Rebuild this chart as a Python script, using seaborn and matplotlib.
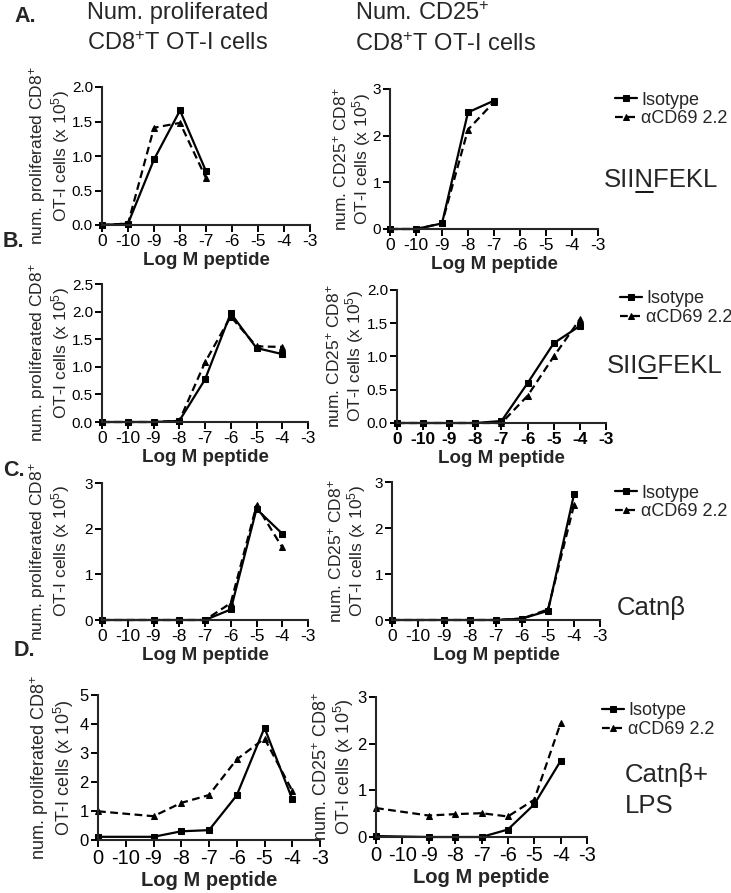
import matplotlib
matplotlib.use("Agg")
import matplotlib.pyplot as plt
import pandas as pd
import seaborn as sns

W, H = 731, 893
XT = ["0", "-10", "-9", "-8", "-7", "-6", "-5", "-4", "-3"]
ISO = "Isotype"
ANTI = "αCD69 2.2"

# A. SIINFEKL
a_dose = [0, -10, -9, -8, -7]
a_prolif_iso = [0.0, 0.02, 0.95, 1.66, 0.78]
a_prolif_anti = [0.0, 0.02, 1.41, 1.48, 0.68]
a_cd25_iso = [0.0, 0.0, 0.12, 2.50, 2.75]
a_cd25_anti = [0.0, 0.0, 0.12, 2.13, 2.72]

# B. SIIGFEKL
b_dose = [0, -10, -9, -8, -7, -6, -5, -4]
b_prolif_iso = [0.0, 0.0, 0.0, 0.02, 0.77, 1.97, 1.34, 1.23]
b_prolif_anti = [0.0, 0.0, 0.0, 0.02, 1.08, 1.91, 1.37, 1.36]
b_cd25_iso = [0.0, 0.0, 0.0, 0.0, 0.03, 0.60, 1.20, 1.46]
b_cd25_anti = [0.0, 0.0, 0.0, 0.0, 0.0, 0.41, 1.00, 1.56]

# C. Catnb
c_dose = [0, -9, -8, -7, -6, -5, -4]
c_prolif_iso = [0.0, 0.0, 0.0, 0.0, 0.23, 2.43, 1.89]
c_prolif_anti = [0.0, 0.0, 0.0, 0.0, 0.37, 2.51, 1.59]
c_cd25_iso = [0.0, 0.0, 0.0, 0.0, 0.03, 0.20, 2.73]
c_cd25_anti = [0.0, 0.0, 0.0, 0.0, 0.03, 0.23, 2.50]

# D. Catnb + LPS
d_dose = [0, -9, -8, -7, -6, -5, -4]
d_prolif_iso = [0.11, 0.11, 0.30, 0.34, 1.54, 3.87, 1.41]
d_prolif_anti = [0.99, 0.82, 1.28, 1.55, 2.78, 3.50, 1.70]
d_cd25_iso = [0.02, 0.0, 0.0, 0.0, 0.16, 0.70, 1.63]
d_cd25_anti = [0.62, 0.46, 0.49, 0.51, 0.44, 0.80, 2.44]

YL_PROLIF = "num. proliferated CD8$^{+}$\nOT-I cells (x 10$^{5}$)"
YL_CD25 = "num. CD25$^{+}$ CD8$^{+}$\nOT-I cells (x 10$^{5}$)"

sns.set_style("ticks")
plt.rcParams["font.family"] = ["Liberation Sans", "DejaVu Sans"]
plt.rcParams["mathtext.fontset"] = "custom"
plt.rcParams["mathtext.rm"] = "Liberation Sans"
plt.rcParams["mathtext.it"] = "Liberation Sans:italic"
plt.rcParams["mathtext.bf"] = "Liberation Sans:bold"


def rect(x0, y0, x1, y1):
    return [x0 / W, 1 - y1 / H, (x1 - x0) / W, (y1 - y0) / H]


def long_df(dose, iso, anti):
    pos = [XT.index(str(d)) for d in dose]
    return pd.DataFrame({
        "pos": pos * 2,
        "val": iso + anti,
        "group": [ISO] * len(iso) + [ANTI] * len(anti),
    })


def panel(fig, box, dose, iso, anti, ymax, ystep, fmt, ylabel, ylgap,
          xfs=12.5, yfs=11, lfs=13.5, ylfs=12.5, xbold=False):
    ax = fig.add_axes(rect(*box))
    df = long_df(dose, iso, anti)
    sns.lineplot(data=df, x="pos", y="val", style="group", ax=ax,
                 style_order=[ISO, ANTI],
                 markers={ISO: "s", ANTI: "^"},
                 dashes={ISO: "", ANTI: (3.5, 2)},
                 color="black", linewidth=1.6, markersize=4.5,
                 markeredgecolor="black", errorbar=None, clip_on=False)
    ax.set_xlim(0, 8)
    ax.set_ylim(0, ymax)
    ax.set_xticks(range(9))
    ax.set_xticklabels(XT, fontsize=xfs, fontweight="bold" if xbold else "normal")
    yt = [i * ystep for i in range(int(round(ymax / ystep)) + 1)]
    ax.set_yticks(yt)
    ax.set_yticklabels([fmt.format(v) for v in yt], fontsize=yfs)
    ax.set_xlabel("Log M peptide", fontsize=lfs, fontweight="bold", labelpad=2)
    ax.set_ylabel(ylabel, fontsize=ylfs, linespacing=1.05)
    ax.yaxis.set_label_coords(-ylgap / (box[2] - box[0]), 0.5)
    for s in ("top", "right"):
        ax.spines[s].set_visible(False)
    for s in ("left", "bottom"):
        ax.spines[s].set_linewidth(1.5)
    ax.tick_params(direction="out", length=5, width=1.4, pad=1.5, colors="black")
    h, l = ax.get_legend_handles_labels()
    if ax.get_legend() is not None:
        ax.get_legend().remove()
    return ax, h, l


fig = plt.figure(figsize=(W / 100, H / 100), dpi=100)

# titles and panel letters
fig.text(87 / W, 1 - 2 / H, "Num. proliferated\nCD8$^{+}$T OT-I cells", fontsize=17,
         va="top", ha="left", linespacing=1.45)
fig.text(355 / W, 1 - 2 / H, "Num. CD25$^{+}$\nCD8$^{+}$T OT-I cells", fontsize=17,
         va="top", ha="left", linespacing=1.45)
for lab, x, y in [("A.", 14, 16), ("B.", 3, 242), ("C.", 3, 471), ("D.", 14, 650)]:
    fig.text(x / W, 1 - y / H, lab, fontsize=15.5, fontweight="bold", va="center", ha="left")

rows = [
    ((102, 87, 310, 225), (390, 89, 598, 229), a_dose,
     a_prolif_iso, a_prolif_anti, 2.0, 0.5, "{:.1f}",
     a_cd25_iso, a_cd25_anti, 3, 1, "{:.0f}", (615, 109.5), (30, 17), {}),
    ((102, 284, 308, 422), (397, 290, 606, 423), b_dose,
     b_prolif_iso, b_prolif_anti, 2.5, 0.5, "{:.1f}",
     b_cd25_iso, b_cd25_anti, 2.0, 0.5, "{:.1f}", (620, 308), (30, 31), {}),
    ((102, 483, 308, 620), (392, 482, 600, 620), c_dose,
     c_prolif_iso, c_prolif_anti, 3, 1, "{:.0f}",
     c_cd25_iso, c_cd25_anti, 3, 1, "{:.0f}", (615, 502.5), (30, 24), {}),
    ((98, 695, 320, 840), (376, 697, 587, 837), d_dose,
     d_prolif_iso, d_prolif_anti, 5, 1, "{:.0f}",
     d_cd25_iso, d_cd25_anti, 3, 1, "{:.0f}", (602, 720), (22, 20),
     {"xfs": 14.5, "yfs": 12, "lfs": 14.5, "ylfs": 13}),
]

for i, (bl, br, dose, pi, pa, pmax, pst, pfmt, ci, ca, cmax, cst, cfmt, lg, gap, kw) in enumerate(rows):
    panel(fig, bl, dose, pi, pa, pmax, pst, pfmt, YL_PROLIF, gap[0], **kw)
    ax, h, l = panel(fig, br, dose, ci, ca, cmax, cst, cfmt, YL_CD25, gap[1],
                     xbold=(i == 1), **kw)
    fig.legend(h, l, loc="center left", bbox_to_anchor=(lg[0] / W, 1 - lg[1] / H),
               bbox_transform=fig.transFigure, frameon=False, fontsize=13,
               handlelength=1.2, handletextpad=0.25, labelspacing=0.1,
               borderpad=0, borderaxespad=0)

# peptide names (with underlined residue where needed)
fig.canvas.draw()
renderer = fig.canvas.get_renderer()


def peptide(x, y, txt, under=None, fs=18.5):
    t = fig.text(x / W, 1 - y / H, txt, fontsize=fs, va="baseline", ha="left")
    if under is not None:
        a = fig.text(0, 0, txt[:under], fontsize=fs)
        b = fig.text(0, 0, txt[:under + 1], fontsize=fs)
        w0 = a.get_window_extent(renderer).width
        w1 = b.get_window_extent(renderer).width
        a.remove()
        b.remove()
        yy = 1 - (y + 5) / H
        fig.add_artist(plt.Line2D([(x + w0 + 1) / W, (x + w1 - 1) / W], [yy, yy],
                                  transform=fig.transFigure, color="black", lw=1.3))
    return t


peptide(604, 187, "SIINFEKL", under=3)
peptide(607, 373, "SIIGFEKL", under=3)
peptide(617, 615, "Catnβ")
peptide(625, 782, "Catnβ+")
peptide(625, 813, "LPS")

fig.savefig("out.png", dpi=100)
